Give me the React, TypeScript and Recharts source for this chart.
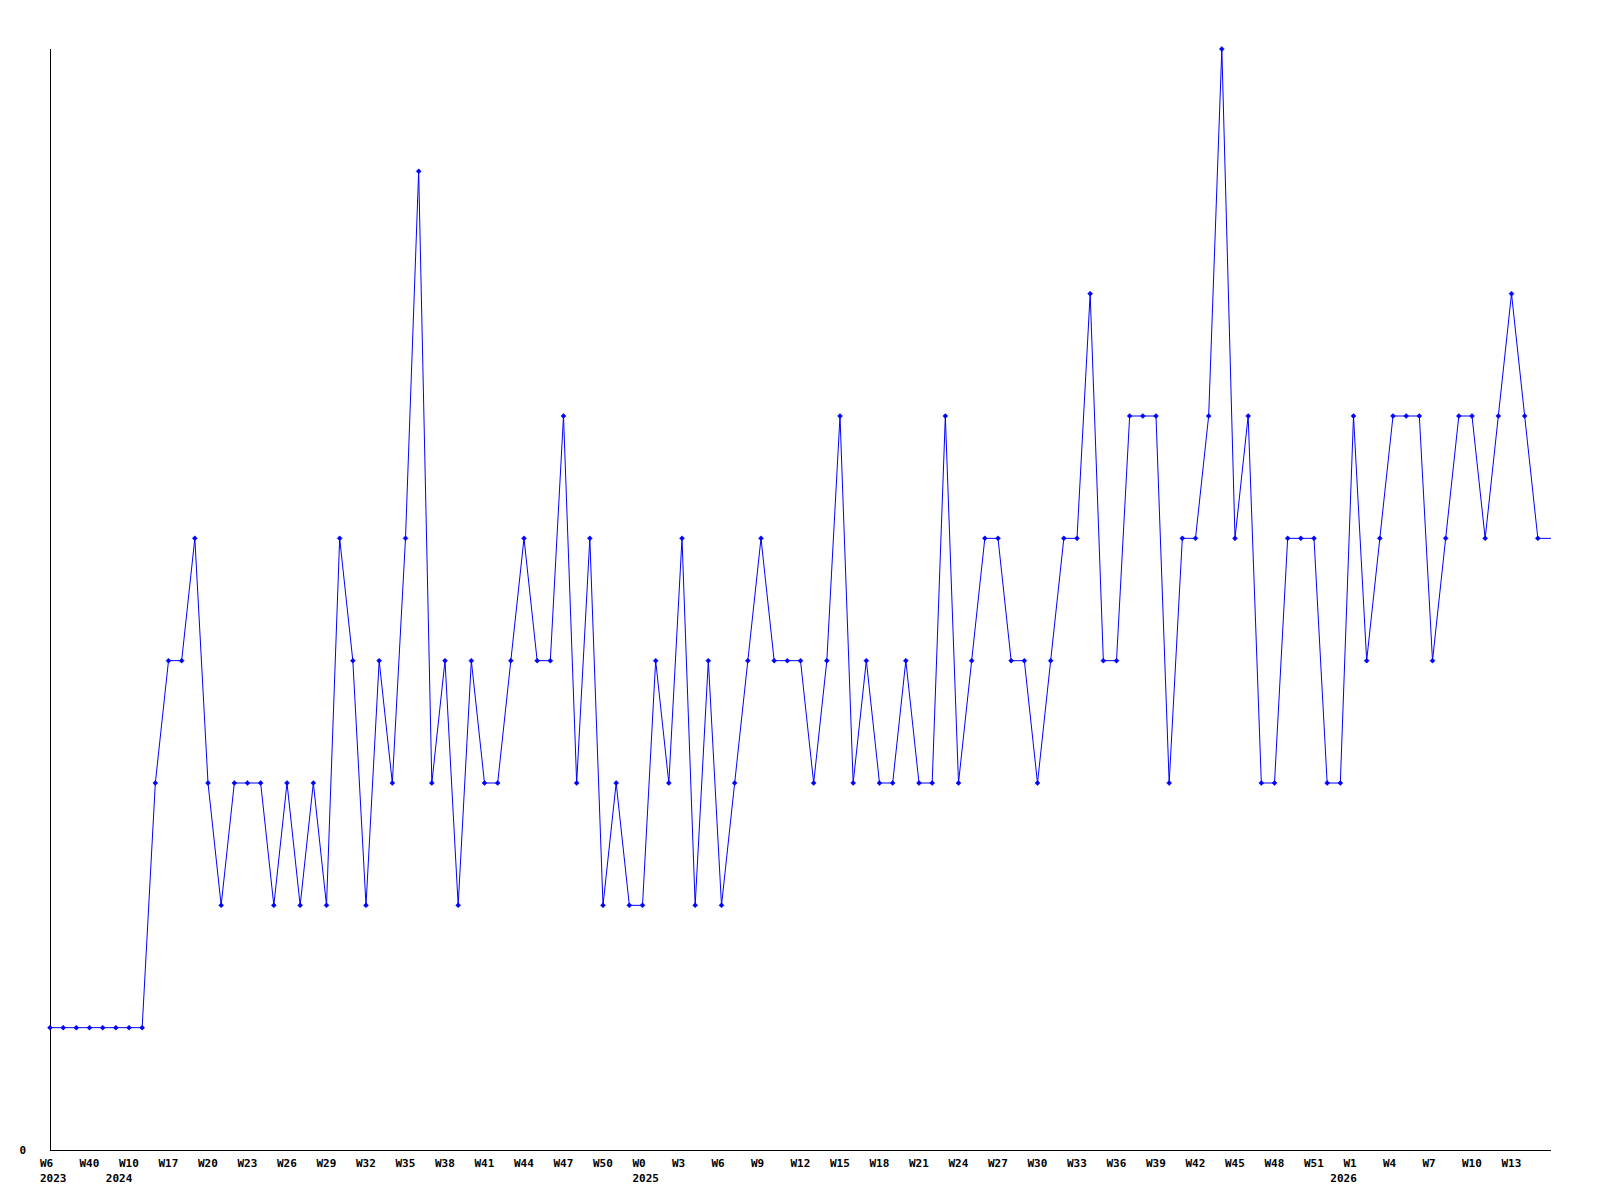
import { LineChart, Line, XAxis, YAxis } from 'recharts'

// week label per point (only every 3rd is printed on the axis)
const weeks = [
  'W6', 'W12', 'W33', 'W40', 'W48',
  'W3', 'W10', 'W13', 'W16',
  'W17', 'W18', 'W19', 'W20', 'W21', 'W22', 'W23', 'W24', 'W25', 'W26', 'W27', 'W28', 'W29',
  'W30', 'W31', 'W32', 'W33', 'W34', 'W35', 'W36', 'W37', 'W38', 'W39', 'W40', 'W41', 'W42',
  'W43', 'W44', 'W45', 'W46', 'W47', 'W48', 'W49', 'W50', 'W51', 'W52',
  'W0', 'W1', 'W2', 'W3', 'W4', 'W5', 'W6', 'W7', 'W8', 'W9', 'W10', 'W11', 'W12', 'W13',
  'W14', 'W15', 'W16', 'W17', 'W18', 'W19', 'W20', 'W21', 'W22', 'W23', 'W24', 'W25', 'W26',
  'W27', 'W28', 'W29', 'W30', 'W31', 'W32', 'W33', 'W34', 'W35', 'W36', 'W37', 'W38', 'W39',
  'W40', 'W41', 'W42', 'W43', 'W44', 'W45', 'W46', 'W47', 'W48', 'W49', 'W50', 'W51', 'W52',
  'W0', 'W1', 'W2', 'W3', 'W4', 'W5', 'W6', 'W7', 'W8', 'W9', 'W10', 'W11', 'W12', 'W13',
  'W14', 'W15', 'W16',
]

// year label shown under the first week of each year
const yearStarts: Record<number, string> = { 0: '2023', 5: '2024', 45: '2025', 98: '2026' }

const counts = [
  1, 1, 1, 1, 1, 1, 1, 1, 3, 4,
  4, 5, 3, 2, 3, 3, 3, 2, 3, 2,
  3, 2, 5, 4, 2, 4, 3, 5, 8, 3,
  4, 2, 4, 3, 3, 4, 5, 4, 4, 6,
  3, 5, 2, 3, 2, 2, 4, 3, 5, 2,
  4, 2, 3, 4, 5, 4, 4, 4, 3, 4,
  6, 3, 4, 3, 3, 4, 3, 3, 6, 3,
  4, 5, 5, 4, 4, 3, 4, 5, 5, 7,
  4, 4, 6, 6, 6, 3, 5, 5, 6, 9,
  5, 6, 3, 3, 5, 5, 5, 3, 3, 6,
  4, 5, 6, 6, 6, 4, 5, 6, 6, 5,
  6, 7, 6, 5, 5,
]

const data = counts.map((v, i) => ({ i, week: weeks[i], v }))
const allTicks = data.map((d) => d.i)
const lastIdx = data.length - 1

const FONT = '"DejaVu Sans Mono", "Liberation Mono", monospace'

function WeekTick(props: any) {
  const { x, y, payload } = props
  const i = payload.value as number
  const year = yearStarts[i]
  return (
    <g>
      {i % 3 === 0 && i < lastIdx - 1 && (
        <text x={x - 10} y={y + 17} fontSize={11} fontWeight="bold" fontFamily={FONT} fill="#000" textAnchor="start">
          {weeks[i]}
        </text>
      )}
      {year && (
        <text x={x - 10} y={y + 32} fontSize={11} fontWeight="bold" fontFamily={FONT} fill="#000" textAnchor="start">
          {year}
        </text>
      )}
    </g>
  )
}

function ZeroTick(props: any) {
  const { x, y, payload } = props
  return (
    <text x={x - 24} y={y + 4} fontSize={11} fontWeight="bold" fontFamily={FONT} fill="#000" textAnchor="end">
      {payload.value}
    </text>
  )
}

function Diamond(props: any) {
  const { cx, cy, index } = props
  if (index === lastIdx || cx == null) return <g key={`d${index}`} />
  return (
    <polygon
      key={`d${index}`}
      points={`${cx},${cy - 2.5} ${cx + 2.5},${cy} ${cx},${cy + 2.5} ${cx - 2.5},${cy}`}
      fill="#0000ff"
      stroke="#0000ff"
      strokeWidth={0.5}
    />
  )
}

const axisLine = { stroke: '#000', strokeWidth: 1, shapeRendering: 'crispEdges' }

export default function App() {
  return (
    <div style={{ position: 'absolute', left: 0, top: 0, width: 1600, height: 1200, background: '#fff' }}>
      <LineChart width={1600} height={1200} data={data} margin={{ top: 49, right: 49, left: 49, bottom: 49 }}>
        <XAxis
          dataKey="i"
          type="number"
          domain={[0, lastIdx]}
          ticks={allTicks}
          interval={0}
          height={1}
          tickLine={false}
          tickSize={0}
          tickMargin={0}
          axisLine={axisLine}
          tick={<WeekTick />}
        />
        <YAxis
          domain={[0, 9]}
          ticks={[0]}
          width={1}
          tickLine={false}
          tickSize={0}
          tickMargin={0}
          axisLine={axisLine}
          tick={<ZeroTick />}
        />
        <Line
          type="linear"
          dataKey="v"
          stroke="#0000ff"
          strokeWidth={1}
          dot={<Diamond />}
          activeDot={false}
          isAnimationActive={false}
        />
      </LineChart>
    </div>
  )
}
